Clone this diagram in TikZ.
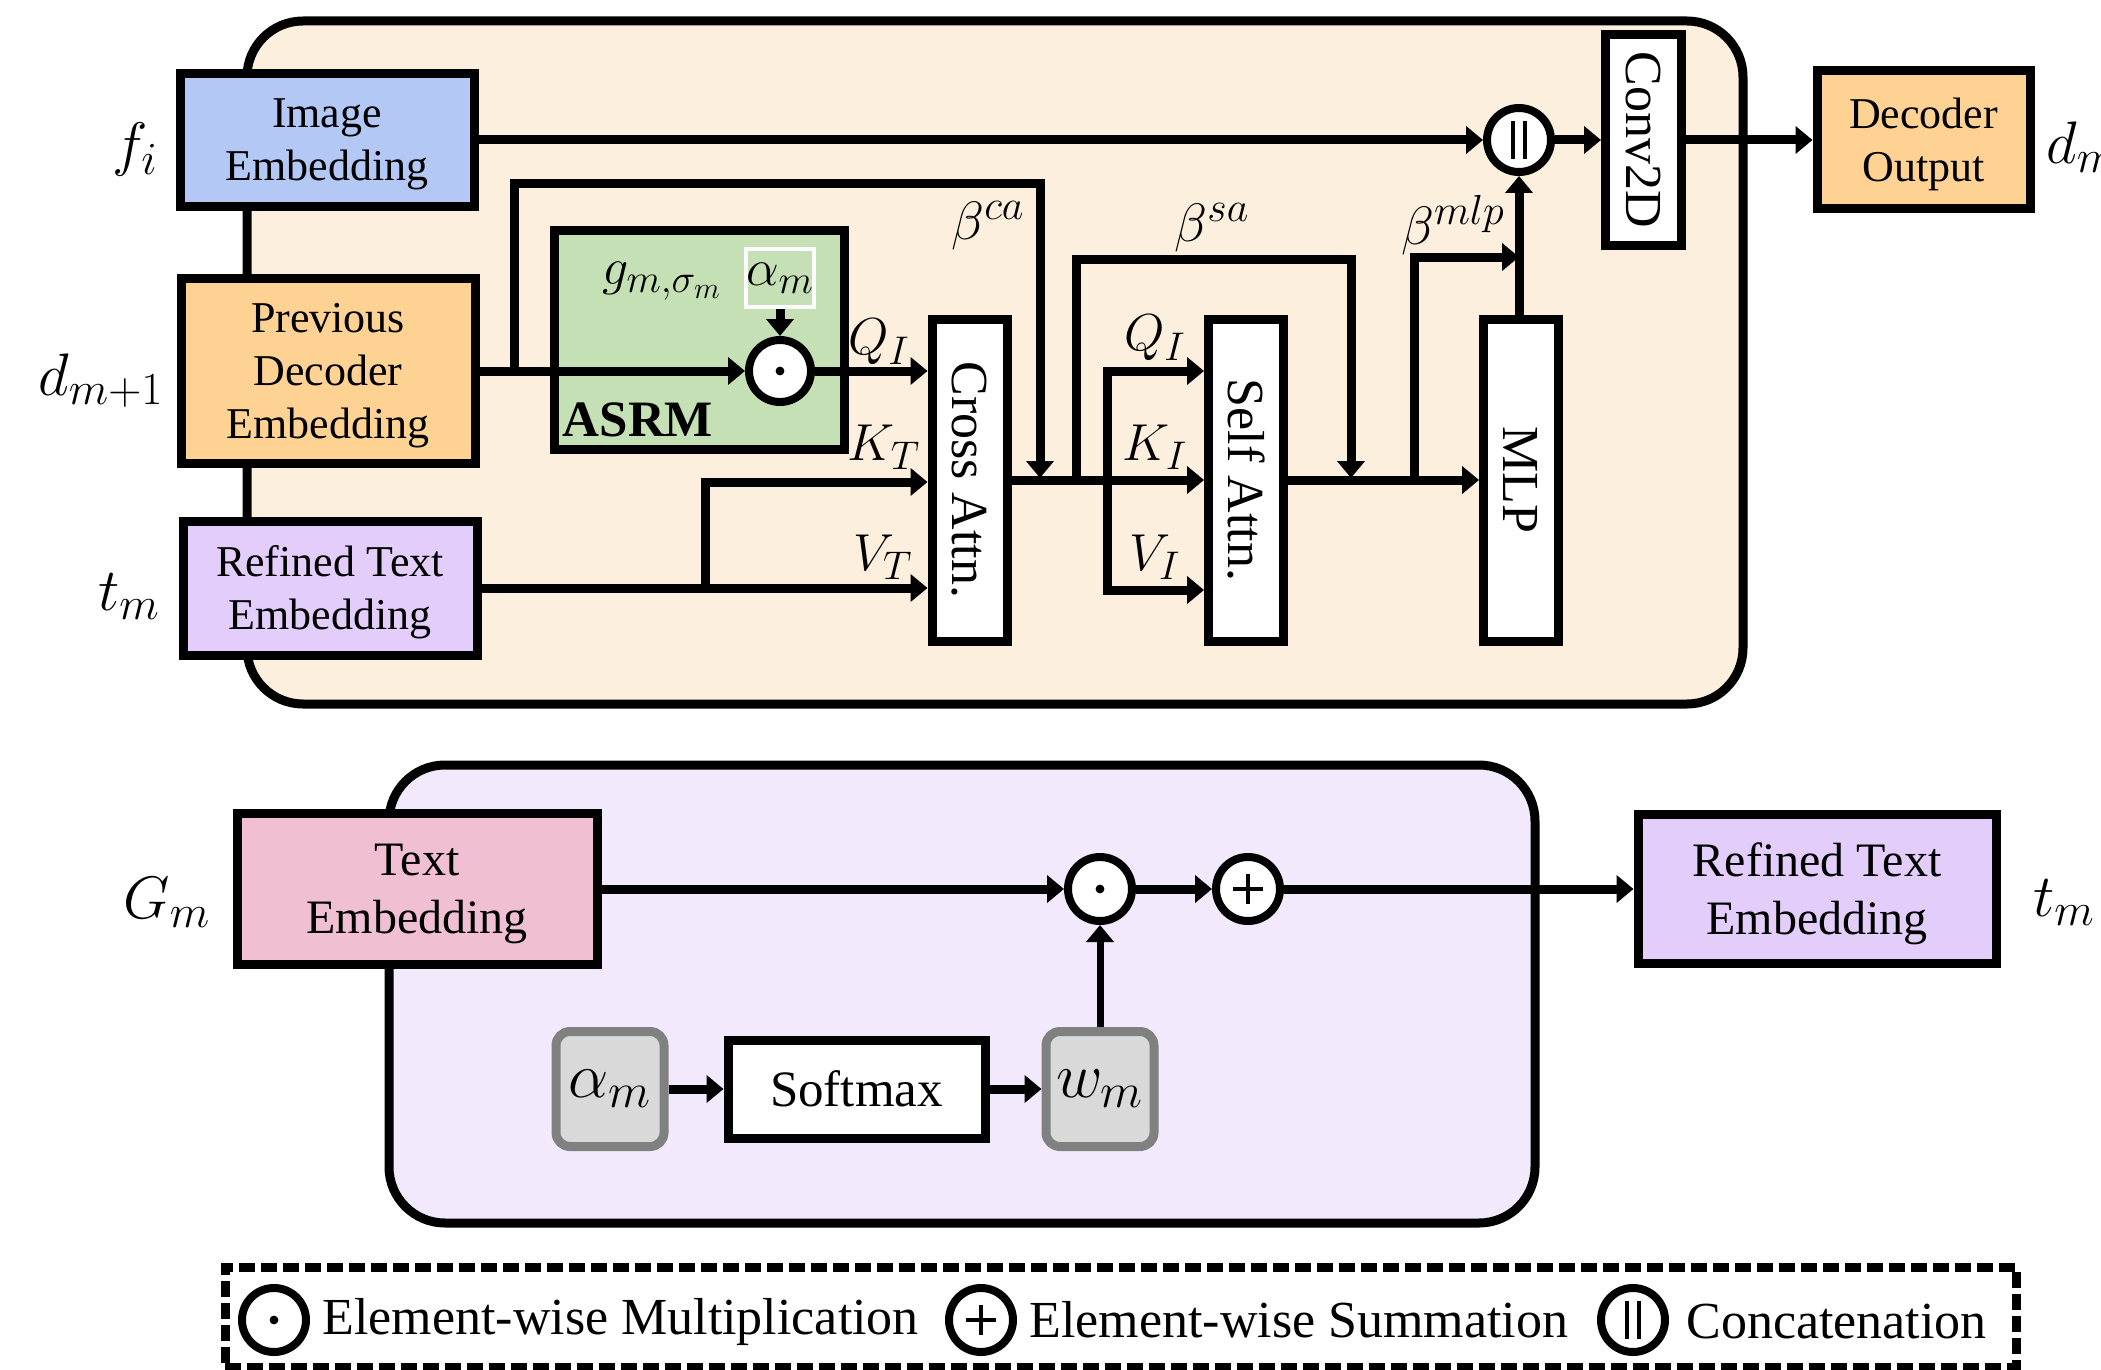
\RequirePackage{fix-cm}
\documentclass[tikz,border=0pt]{standalone}
\usepackage{fontspec}
\setmainfont{Liberation Serif}
\usetikzlibrary{arrows.meta,calc}
\DeclareMathSizes{24}{24}{18.5}{14}
\DeclareMathSizes{26}{26}{20}{15}
\DeclareMathSizes{27}{27}{21}{16}
\DeclareMathSizes{30}{30}{23}{18}
\DeclareMathSizes{32}{32}{24.5}{19}

\definecolor{peach}{HTML}{FDEFDE}
\definecolor{imgblue}{HTML}{B4C8F6}
\definecolor{decorange}{HTML}{FED293}
\definecolor{reflav}{HTML}{E3CEFB}
\definecolor{asrmgreen}{HTML}{C5E0B4}
\definecolor{botlav}{HTML}{F3E9FC}
\definecolor{txtpink}{HTML}{F1BFD3}
\definecolor{graybox}{HTML}{D9D9D9}
\definecolor{grayedge}{HTML}{808080}

\begin{document}
\begin{tikzpicture}[x=0.5pt,y=-0.5pt,
  outer/.style={draw=black, line width=4.5pt, rounded corners=28pt},
  box/.style={draw=black, line width=4.5pt, align=center, inner sep=0pt, font=\fontsize{22}{26.5}\selectfont},
  txtbox/.style={box, text depth=0pt},
  bigbox/.style={box, text depth=-2pt, font=\fontsize{24}{29}\selectfont},
  tallbox/.style={box, fill=white, minimum width=37.5pt, minimum height=161pt, font=\fontsize{26}{30}\selectfont},
  gbox/.style={draw=grayedge, fill=graybox, line width=4.5pt, rounded corners=7pt, minimum width=54pt, minimum height=57.5pt, inner sep=0pt, font=\fontsize{32}{36}\selectfont},
  opc/.style={circle, draw=black, fill=white, line width=4pt, minimum size=32pt, inner sep=0pt},
  arr/.style={line width=4.5pt, -{Triangle[length=8.5pt,width=13.5pt]}},
  mlab/.style={inner sep=0pt, font=\fontsize{30}{36}\selectfont},
  slab/.style={inner sep=0pt, font=\fontsize{26}{30}\selectfont},
  blab/.style={inner sep=0pt, font=\fontsize{27}{32}\selectfont},
  legtext/.style={anchor=west, inner sep=0pt, font=\fontsize{26}{30}\selectfont},
]
\useasboundingbox (0,0) rectangle (2101,1370);

% ---------- top panel ----------
\draw[outer, fill=peach] (247,21) rectangle (1743,704);

\node[txtbox, fill=imgblue, minimum width=147pt, minimum height=66.5pt] (img) at (327,140) {Image\\Embedding};
\node[txtbox, fill=decorange, minimum width=147pt, minimum height=92.5pt] (prev) at (328,371) {Previous\\Decoder\\Embedding};
\node[txtbox, fill=reflav, minimum width=147pt, minimum height=67pt] (rte) at (330,588) {Refined Text\\Embedding};

\node[box, fill=asrmgreen, minimum width=145pt, minimum height=109pt] (asrm) at (699,340) {};
\node[draw=white, line width=2pt, minimum width=31pt, minimum height=29pt, inner sep=0pt, font=\fontsize{26}{30}\selectfont] (abox) at (780,278) {$\alpha_m$};
\node[inner sep=0pt, font=\fontsize{26}{30}\selectfont] (gsig) at (662,281) {$g_{m,\sigma_m}$};
\node[inner sep=0pt, font=\fontsize{25.5}{30}\selectfont\bfseries] (asrmlab) at (638,420) {ASRM};
\node[opc, minimum size=31pt] (odA) at (780,371) {};
\fill (odA) circle (2.2pt);

\node[tallbox] (ca) at (969.5,480) {\rotatebox{-90}{Cross Attn.}};
\node[tallbox] (sa) at (1246,480) {\rotatebox{-90}{Self Attn.}};
\node[tallbox] (mlp) at (1521,480) {\rotatebox{-90}{MLP}};
\node[box, fill=white, minimum width=38pt, minimum height=105pt, font=\fontsize{26}{30}\selectfont] (conv) at (1643.5,140) {\rotatebox{-90}{Conv2D}};
\node[opc] (cat) at (1519,140) {};
\draw[line width=2pt] ($(cat)+(-6,-19)$) -- ($(cat)+(-6,19)$);
\draw[line width=2pt] ($(cat)+(6,-19)$) -- ($(cat)+(6,19)$);
\node[txtbox, fill=decorange, minimum width=106.5pt, minimum height=69pt] (decout) at (1923.5,140) {Decoder\\Output};

% side labels
\node[mlab] (lfi) at (135,150) {$f_i$};
\node[mlab] (ldm1) at (101,381) {$d_{m+1}$};
\node[mlab] (ltm) at (129,597) {$t_m$};
\node[mlab, anchor=west] (ldm) at (2046,147) {$d_m$};

% connectors top
\draw[arr] (prev.east) -- (odA.west);
\draw[arr] (abox.south) -- (odA.north);
\draw[arr] (odA.east) -- (odA -| ca.west);
\coordinate (vtsplit) at (705,588);
\coordinate (kt) at (705,482);
\draw[arr] (rte.east) -- (rte.east -| ca.west);
\draw[arr] (vtsplit) -- (kt) -- (kt -| ca.west);

\coordinate (bca) at (514,371);
\coordinate (jca) at (1040,478);
\draw[arr] (bca) -- ++(0,-187) -| (jca);

\draw[arr] (ca.east) -- (sa.west);
\coordinate (bsa) at (1076,480);
\coordinate (jsa) at (1351,478);
\draw[arr] (bsa) -- ++(0,-221) -| (jsa);

\coordinate (qv) at (1107,480);
\coordinate (qi) at (1107,371);
\coordinate (vi) at (1107,590);
\draw[arr] (qv) -- (qi) -- (qi -| sa.west);
\draw[arr] (qv) -- (vi) -- (vi -| sa.west);

\draw[arr] (sa.east) -- (mlp.west);
\coordinate (bm1) at (1414,480);
\coordinate (bm2) at (1414,257);
\draw[arr] (bm1) -- (bm2) -- (bm2 -| cat.south);
\draw[arr] (mlp.north -| cat.south) -- (cat.south);
\draw[arr] (img.east) -- (cat.west);
\draw[arr] (cat.east) -- (conv.west);
\draw[arr] (conv.east) -- (decout.west);

% connector labels
\node[slab] (lq1) at (879,342) {$Q_I$};
\node[slab] (lk1) at (884,447) {$K_T$};
\node[slab] (lv1) at (883,557) {$V_T$};
\node[slab] (lq2) at (1155,338) {$Q_I$};
\node[slab] (lk2) at (1155,447) {$K_I$};
\node[slab] (lv2) at (1155,557) {$V_I$};
\node[blab] (lbca) at (988,226) {$\beta^{ca}$};
\node[blab] (lbsa) at (1212,228) {$\beta^{sa}$};
\node[blab] (lbmlp) at (1453,225) {$\beta^{mlp}$};

% ---------- bottom panel ----------
\draw[outer, fill=botlav] (389,765) rectangle (1535,1223);
\node[bigbox, fill=txtpink, minimum width=180pt, minimum height=75.5pt] (te) at (417,889) {Text\\Embedding};
\node[bigbox, fill=reflav, minimum width=179pt, minimum height=74.5pt] (rbe) at (1817,889) {Refined Text\\Embedding};
\node[opc] (odB) at (1100,889) {};
\fill (odB) circle (2.2pt);
\node[opc] (plusB) at (1248,889) {};
\draw[line width=1.8pt] ($(plusB)+(-15,0)$) -- ($(plusB)+(15,0)$);
\draw[line width=1.8pt] ($(plusB)+(0,-15)$) -- ($(plusB)+(0,15)$);

\node[gbox] (am) at (610,1089) {$\alpha_m$};
\node[box, fill=white, minimum width=128.5pt, minimum height=49pt, font=\fontsize{25.5}{30}\selectfont] (sm) at (856.5,1089) {Softmax};
\node[gbox] (wm) at (1100,1089) {$w_m$};

\node[mlab] (lgm) at (167,902) {$G_m$};
\node[mlab] (ltm2) at (2064,903) {$t_m$};

\draw[arr] (te.east) -- (odB.west);
\draw[arr] (odB.east) -- (plusB.west);
\draw[arr] (plusB.east) -- (rbe.west);
\draw[arr] (am.east) -- (sm.west);
\draw[arr] (sm.east) -- (wm.west);
\draw[arr, line width=3.5pt] (wm.north) -- (odB.south);

% ---------- legend ----------
\node[draw=black, line width=4.5pt, dash pattern=on 8pt off 3pt, minimum width=895.5pt, minimum height=50pt, inner sep=0pt] (leg) at (1120.5,1317) {};
\node[opc] (lc1) at (274,1320) {};
\fill (lc1) circle (2.2pt);
\node[legtext] (lt1) at (322,1322) {Element-wise Multiplication};
\node[opc] (lc2) at (981,1320) {};
\draw[line width=1.8pt] ($(lc2)+(-15,0)$) -- ($(lc2)+(15,0)$);
\draw[line width=1.8pt] ($(lc2)+(0,-15)$) -- ($(lc2)+(0,15)$);
\node[legtext] (lt2) at (1029,1320) {Element-wise Summation};
\node[opc] (lc3) at (1633,1320) {};
\draw[line width=2pt] ($(lc3)+(-6,-19)$) -- ($(lc3)+(-6,19)$);
\draw[line width=2pt] ($(lc3)+(6,-19)$) -- ($(lc3)+(6,19)$);
\node[legtext] (lt3) at (1686,1322) {Concatenation};
\end{tikzpicture}
\end{document}
